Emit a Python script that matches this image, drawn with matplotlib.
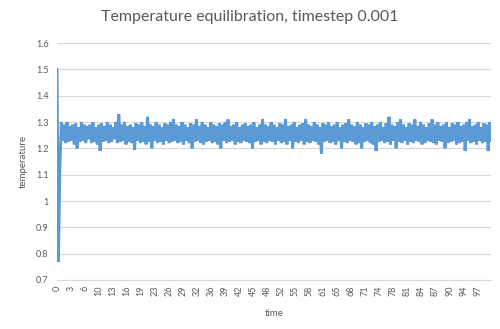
import numpy as np
import matplotlib.pyplot as plt

# temperature series (start transient, then alternating hi/lo of the noisy band)
temperature = [
    1.50, 0.77, 1.13,
    1.30, 1.23, 1.29, 1.22, 1.30, 1.225, 1.285, 1.23, 1.29, 1.215,
    1.295, 1.20, 1.28, 1.225, 1.30, 1.23, 1.29, 1.22, 1.285, 1.235,
    1.29, 1.22, 1.30, 1.225, 1.28, 1.215, 1.29, 1.19, 1.295, 1.225,
    1.285, 1.23, 1.30, 1.22, 1.29, 1.225, 1.28, 1.235, 1.30, 1.22,
    1.33, 1.225, 1.29, 1.23, 1.30, 1.215, 1.285, 1.225, 1.29, 1.22,
    1.28, 1.195, 1.295, 1.23, 1.29, 1.22, 1.30, 1.225, 1.285, 1.215,
    1.32, 1.225, 1.29, 1.20, 1.285, 1.23, 1.30, 1.22, 1.29, 1.225,
    1.28, 1.215, 1.295, 1.23, 1.29, 1.22, 1.30, 1.225, 1.31, 1.23,
    1.29, 1.22, 1.285, 1.225, 1.30, 1.215, 1.29, 1.23, 1.28, 1.22,
    1.295, 1.20, 1.29, 1.225, 1.31, 1.23, 1.285, 1.22, 1.30, 1.215,
    1.29, 1.225, 1.28, 1.23, 1.30, 1.22, 1.29, 1.225, 1.285, 1.215,
    1.295, 1.20, 1.29, 1.23, 1.30, 1.22, 1.31, 1.225, 1.285, 1.23,
    1.29, 1.215, 1.30, 1.225, 1.28, 1.22, 1.29, 1.23, 1.295, 1.225,
    1.285, 1.22, 1.29, 1.20, 1.30, 1.225, 1.28, 1.23, 1.29, 1.215,
    1.31, 1.225, 1.29, 1.22, 1.285, 1.23, 1.30, 1.225, 1.29, 1.215,
    1.28, 1.23, 1.295, 1.22, 1.29, 1.225, 1.31, 1.215, 1.285, 1.23,
    1.29, 1.20, 1.30, 1.225, 1.28, 1.22, 1.29, 1.23, 1.295, 1.215,
    1.31, 1.225, 1.29, 1.22, 1.285, 1.23, 1.30, 1.225, 1.29, 1.215,
    1.28, 1.18, 1.295, 1.225, 1.29, 1.23, 1.30, 1.22, 1.285, 1.225,
    1.29, 1.215, 1.30, 1.23, 1.28, 1.20, 1.29, 1.225, 1.295, 1.22,
    1.31, 1.23, 1.29, 1.225, 1.285, 1.215, 1.30, 1.22, 1.29, 1.20,
    1.28, 1.225, 1.295, 1.23, 1.29, 1.22, 1.30, 1.215, 1.285, 1.19,
    1.29, 1.225, 1.30, 1.23, 1.28, 1.22, 1.295, 1.225, 1.32, 1.215,
    1.29, 1.23, 1.285, 1.20, 1.30, 1.225, 1.31, 1.22, 1.29, 1.23,
    1.28, 1.215, 1.295, 1.225, 1.29, 1.22, 1.31, 1.23, 1.285, 1.225,
    1.30, 1.215, 1.29, 1.22, 1.28, 1.23, 1.295, 1.225, 1.31, 1.22,
    1.29, 1.215, 1.30, 1.23, 1.285, 1.225, 1.29, 1.20, 1.30, 1.22,
    1.28, 1.225, 1.295, 1.23, 1.29, 1.215, 1.30, 1.22, 1.285, 1.225,
    1.29, 1.19, 1.30, 1.23, 1.31, 1.22, 1.285, 1.225, 1.29, 1.215,
    1.30, 1.23, 1.28, 1.22, 1.295, 1.225, 1.29, 1.19, 1.30, 1.23,
]
time = np.linspace(0, 100, len(temperature))

time_labels = ["0", "3", "6", "10", "13", "16", "19", "23", "26", "29", "32",
               "36", "39", "42", "45", "48", "52", "55", "58", "61", "65",
               "68", "71", "74", "78", "81", "84", "87", "90", "94", "97"]
temp_ticks = [0.7, 0.8, 0.9, 1.0, 1.1, 1.2, 1.3, 1.4, 1.5, 1.6]
temp_labels = ["0.7", "0.8", "0.9", "1", "1.1", "1.2", "1.3", "1.4", "1.5", "1.6"]

plt.rcParams['font.family'] = ['Lato', 'DejaVu Sans']
text_gray = "#595959"

fig = plt.figure(figsize=(5, 3.29), dpi=100)
ax = fig.add_axes([0.114, 0.149, 0.868, 0.72])

ax.plot(time, temperature, color="#5B9BD5", linewidth=2.1, solid_joinstyle="miter")

ax.set_xlim(0, 100)
ax.set_ylim(0.7, 1.6)
ax.set_yticks(temp_ticks)
ax.set_yticklabels(temp_labels)
ax.set_xticks([i * 3.23 for i in range(len(time_labels))])
ax.set_xticklabels(time_labels, rotation=90)

ax.grid(axis="y", color="#D9D9D9", linewidth=0.8)
ax.set_axisbelow(True)
for side in ["top", "right", "left"]:
    ax.spines[side].set_visible(False)
ax.spines["bottom"].set_color("#D9D9D9")
ax.spines["bottom"].set_linewidth(0.8)
ax.tick_params(axis="both", length=0, labelsize=6.5, colors=text_gray)
ax.tick_params(axis="y", pad=6)
ax.tick_params(axis="x", pad=4)

fig.text(0.5, 0.948, "Temperature equilibration, timestep 0.001", fontsize=11.5,
         color=text_gray, ha="center", va="center")
ax.set_ylabel("temperature", fontsize=7, color=text_gray, labelpad=6)
ax.set_xlabel("time", fontsize=7, color=text_gray, labelpad=9)

fig.savefig("out.png", dpi=100)
